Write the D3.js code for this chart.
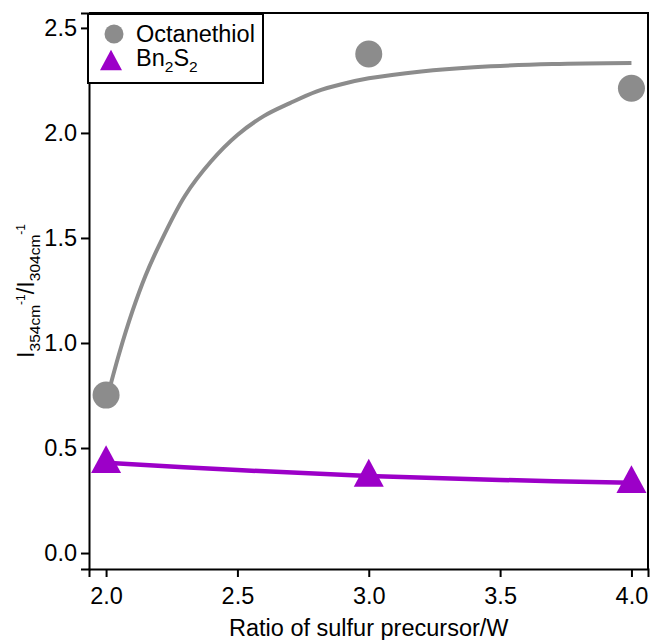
<!DOCTYPE html>
<html>
<head>
<meta charset="utf-8">
<script src="https://cdn.jsdelivr.net/npm/d3@7"></script>
<style>
  body { margin: 0; background: #fff; }
  text { font-family: "Liberation Sans", Arial, sans-serif; fill: #000; }
</style>
</head>
<body>
<div id="chart"></div>
<script>
// measured points
var octX = [2.0, 3.0, 4.0];
var octY = [0.752, 2.376, 2.213];
var bnX = [2.0, 3.0, 4.0];
var bnY = [0.447, 0.382, 0.352];

// fitted curves
var octFitX = [2.0, 2.05, 2.1, 2.15, 2.2, 2.3, 2.4, 2.5, 2.6, 2.7, 2.8, 2.9, 3.0, 3.2, 3.4, 3.7, 4.0];
var octFitY = [0.72, 0.95, 1.15, 1.32, 1.46, 1.70, 1.865, 1.99, 2.08, 2.142, 2.197, 2.233, 2.26, 2.293, 2.313, 2.328, 2.333];
var bnFitX = [2.0, 2.5, 3.0, 3.5, 4.0];
var bnFitY = [0.43, 0.395, 0.367, 0.348, 0.335];

var xTicks = [2.0, 2.5, 3.0, 3.5, 4.0];
var yTicks = [0.0, 0.5, 1.0, 1.5, 2.0, 2.5];

var grey = "#8c8c8c";
var purple = "#9c00c8";

var W = 651, H = 640;
var margin = {left: 89, top: 13, right: 3, bottom: 71};
var iw = W - margin.left - margin.right;
var ih = H - margin.top - margin.bottom;

var x = d3.scaleLinear().domain([1.935, 4.063]).range([0, iw]);
var y = d3.scaleLinear().domain([-0.076, 2.571]).range([ih, 0]);

var svg = d3.select("#chart").append("svg")
    .attr("width", W)
    .attr("height", H);

var g = svg.append("g")
    .attr("transform", "translate(" + margin.left + "," + margin.top + ")");

// frame top/right
g.append("path")
    .attr("d", "M0,0H" + iw + "V" + ih)
    .attr("fill", "none")
    .attr("stroke", "#000")
    .attr("stroke-width", 2);

var xAxis = g.append("g")
    .attr("transform", "translate(0," + ih + ")")
    .call(d3.axisBottom(x).tickValues(xTicks).tickFormat(d3.format(".1f")).tickSize(8).tickPadding(10));

var yAxis = g.append("g")
    .call(d3.axisLeft(y).tickValues(yTicks).tickFormat(d3.format(".1f")).tickSize(8).tickPadding(4));

[xAxis, yAxis].forEach(function(a) {
    a.select(".domain").attr("stroke-width", 2);
    a.selectAll(".tick line").attr("stroke-width", 2);
    a.selectAll(".tick text")
        .attr("font-size", 23.5)
        .attr("font-family", "Liberation Sans, Arial, sans-serif");
});

// fit lines
var line = d3.line()
    .x(function(d) { return x(d[0]); })
    .y(function(d) { return y(d[1]); })
    .curve(d3.curveCatmullRom);

g.append("path")
    .datum(d3.zip(octFitX, octFitY))
    .attr("d", line)
    .attr("fill", "none")
    .attr("stroke", grey)
    .attr("stroke-width", 4);

g.append("path")
    .datum(d3.zip(bnFitX, bnFitY))
    .attr("d", line)
    .attr("fill", "none")
    .attr("stroke", purple)
    .attr("stroke-width", 4.5);

// markers
g.selectAll(".oct")
    .data(d3.zip(octX, octY))
    .enter()
    .append("circle")
    .attr("class", "oct")
    .attr("cx", function(d) { return x(d[0]); })
    .attr("cy", function(d) { return y(d[1]); })
    .attr("r", 13.5)
    .attr("fill", grey);

function tri(s) {
    var h = s * 0.93;
    return "M0," + (-h / 2) + "L" + (s / 2) + "," + (h / 2) + "L" + (-s / 2) + "," + (h / 2) + "Z";
}

g.selectAll(".bn")
    .data(d3.zip(bnX, bnY))
    .enter()
    .append("path")
    .attr("class", "bn")
    .attr("transform", function(d) {
        return "translate(" + x(d[0]) + "," + y(d[1]) + ")";
    })
    .attr("d", tri(30))
    .attr("fill", purple);

// axis titles
svg.append("text")
    .attr("x", margin.left + x(3.0))
    .attr("y", 636)
    .attr("text-anchor", "middle")
    .attr("font-size", 23.5)
    .text("Ratio of sulfur precursor/W");

var yt = svg.append("text")
    .attr("transform", "translate(34," + (margin.top + ih / 2) + ") rotate(-90)")
    .attr("text-anchor", "middle")
    .attr("font-size", 23.5);
yt.append("tspan").text("I");
yt.append("tspan").attr("font-size", 15.5).attr("dy", 6).text("354cm");
yt.append("tspan").attr("font-size", 12).attr("dy", -15).text("-1");
yt.append("tspan").attr("dy", 9).text("/I");
yt.append("tspan").attr("font-size", 15.5).attr("dy", 6).text("304cm");
yt.append("tspan").attr("font-size", 12).attr("dy", -15).text("-1");

// legend
var lg = svg.append("g").attr("transform", "translate(88,14)");
lg.append("rect")
    .attr("width", 175)
    .attr("height", 69)
    .attr("fill", "#fff")
    .attr("stroke", "#000")
    .attr("stroke-width", 2);
lg.append("circle")
    .attr("cx", 26)
    .attr("cy", 20)
    .attr("r", 9.5)
    .attr("fill", grey);
lg.append("path")
    .attr("transform", "translate(23,46)")
    .attr("d", tri(22))
    .attr("fill", purple);
lg.append("text")
    .attr("x", 48)
    .attr("y", 28)
    .attr("font-size", 23.5)
    .text("Octanethiol");
var bt = lg.append("text")
    .attr("x", 48)
    .attr("y", 52)
    .attr("font-size", 23.5);
bt.append("tspan").text("Bn");
bt.append("tspan").attr("font-size", 15.5).attr("dy", 6).text("2");
bt.append("tspan").attr("dy", -6).text("S");
bt.append("tspan").attr("font-size", 15.5).attr("dy", 6).text("2");
</script>
</body>
</html>
